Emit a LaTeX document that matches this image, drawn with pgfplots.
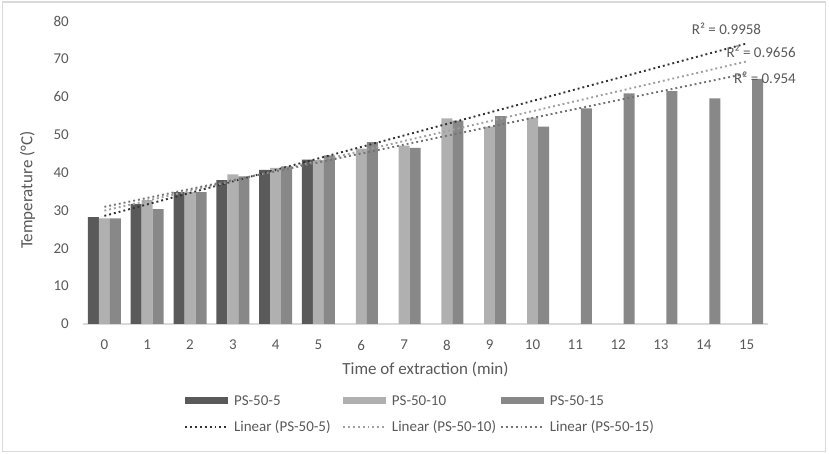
\documentclass[border=0pt]{standalone}
\usepackage{pgfplots}
\pgfplotsset{compat=1.18}
\usepackage{fontspec}
\setmainfont{Carlito}

\definecolor{txt}{HTML}{595959}
\definecolor{cA}{HTML}{5A5A5A}
\definecolor{cB}{HTML}{B0B0B0}
\definecolor{cC}{HTML}{888888}
\definecolor{tA}{HTML}{333333}
\definecolor{tB}{HTML}{A0A0A0}
\definecolor{tC}{HTML}{747474}
\definecolor{frame}{HTML}{D9D9D9}

\begin{document}
\begin{tikzpicture}
\begin{axis}[
  at={(0pt,0pt)}, anchor=south west,
  scale only axis, width=685pt, height=303pt,
  xmin=-0.5, xmax=15.5, ymin=0, ymax=80,
  xtick={0,...,15}, ytick={0,10,...,80},
  axis x line*=bottom, axis y line*=left,
  x axis line style={draw=frame, line width=1.3pt, -},
  y axis line style={draw=none},
  major tick length=0pt,
  clip=false,
  /pgf/number format/assume math mode=true,
  tick label style={font=\fontsize{15}{18}\selectfont, text=txt},
  yticklabel style={inner xsep=0pt, xshift=-14pt},
  xticklabel style={inner ysep=0pt, yshift=-16pt},
  label style={font=\fontsize{17}{20}\selectfont, text=txt},
  xlabel={Time of extraction (min)},
  xlabel style={at={(axis description cs:0.5,-0.1485)}, anchor=center},
  ylabel={Temperature (°C)},
  ylabel style={at={(axis description cs:-0.081,0.442)}, anchor=center},
  legend columns=3,
  legend style={at={(axis description cs:0.1474,-0.228)}, anchor=north west,
    draw=none, fill=none, inner sep=0pt, column sep=3pt, row sep=10pt,
    font=\fontsize{15}{18}\selectfont, text=txt},
  trend/.style={line width=1.9pt, dash pattern=on 1.9pt off 3pt,
    legend image code/.code={\draw[##1] (0pt,0pt) -- (43pt,0pt);}},
  barlegend/.style={legend image code/.code={\fill[##1] (0pt,-3.5pt) rectangle (43pt,3.5pt);}},
]
% PS-50-5
\addplot[ybar, bar width=11pt, bar shift=-11pt, fill=cA, draw=none, barlegend] coordinates {
  (0,28.2) (1,31.7) (2,34.8) (3,38.0) (4,40.7) (5,43.4)
};
\addlegendentry{\makebox[103pt][l]{PS-50-5}}
% PS-50-10
\addplot[ybar, bar width=11pt, bar shift=0pt, fill=cB, draw=none, barlegend] coordinates {
  (0,27.9) (1,32.7) (2,34.9) (3,39.5) (4,41.2) (5,43.3)
  (6,46.3) (7,47.1) (8,54.3) (9,52.1) (10,54.5)
};
\addlegendentry{\makebox[103pt][l]{PS-50-10}}
% PS-50-15
\addplot[ybar, bar width=11pt, bar shift=11pt, fill=cC, draw=none, barlegend] coordinates {
  (0,27.9) (1,30.3) (2,34.8) (3,39.0) (4,41.6) (5,44.5)
  (6,48.0) (7,46.5) (8,53.7) (9,54.9) (10,52.1)
  (11,56.9) (12,60.9) (13,61.5) (14,59.6) (15,64.7)
};
\addlegendentry{\makebox[103pt][l]{PS-50-15}}
% linear trend lines
\addplot[trend, draw=tA] coordinates {(0,28.55) (15,74.06)};
\addlegendentry{\makebox[103pt][l]{Linear (PS-50-5)}}
\addplot[trend, draw=tB] coordinates {(0,29.93) (15,69.32)};
\addlegendentry{\makebox[103pt][l]{Linear (PS-50-10)}}
\addplot[trend, draw=tC] coordinates {(0,30.94) (15,66.13)};
\addlegendentry{\makebox[103pt][l]{Linear (PS-50-15)}}

\node[font=\fontsize{15}{18}\selectfont, text=txt] at (axis cs:14.53,77.9) {R² = 0.9958};
\node[font=\fontsize{15}{18}\selectfont, text=txt] at (axis cs:15.34,71.8) {R² = 0.9656};
\node[font=\fontsize{15}{18}\selectfont, text=txt] at (axis cs:15.43,64.95) {R² = 0.954};
\end{axis}
\draw[frame, line width=1.5pt] (-80.3pt,-127.5pt) rectangle (742.5pt,322pt);
\pgfresetboundingbox
\path (-83pt,-130pt) rectangle (746pt,324pt);
\end{tikzpicture}
\end{document}
